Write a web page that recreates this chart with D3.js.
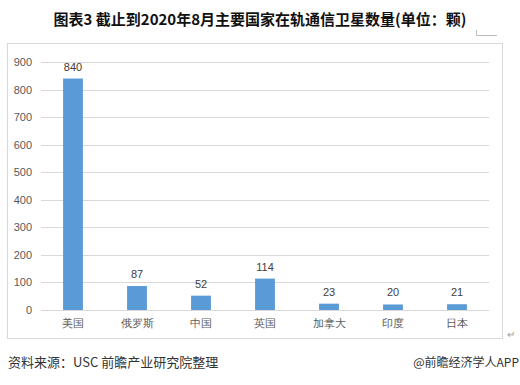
<!DOCTYPE html>
<html>
<head>
<meta charset="utf-8">
<script src="https://cdn.jsdelivr.net/npm/d3@7"></script>
<style>
  body { margin: 0; background: #fff; }
  svg { display: block; font-family: "Microsoft YaHei", "Noto Sans CJK SC", sans-serif; }
</style>
</head>
<body>
<div id="chart"></div>
<script>
var countries = ["美国", "俄罗斯", "中国", "英国", "加拿大", "印度", "日本"];
var satellites = [840, 87, 52, 114, 23, 20, 21];
var yTicks = [0, 100, 200, 300, 400, 500, 600, 700, 800, 900];

var width = 520, height = 385;
var margin = {top: 62, right: 31, bottom: 75, left: 41};
var innerW = width - margin.left - margin.right,
    innerH = height - margin.top - margin.bottom;

var svg = d3.select("#chart")
  .append("svg")
    .attr("width", width)
    .attr("height", height);

// title
svg.append("text")
  .attr("x", 260)
  .attr("y", 25)
  .attr("text-anchor", "middle")
  .attr("font-size", 15)
  .attr("font-weight", "bold")
  .attr("fill", "#111")
  .text("图表3 截止到2020年8月主要国家在轨通信卫星数量(单位：颗)");

// frame
svg.append("rect")
  .attr("x", 7.5).attr("y", 43.5)
  .attr("width", 495).attr("height", 295)
  .attr("fill", "none")
  .attr("stroke", "#d9d9d9");

svg.append("path")
  .attr("d", "M476.5,30V35.5H497")
  .attr("fill", "none")
  .attr("stroke", "#bbb");

var g = svg.append("g")
  .attr("transform", "translate(" + margin.left + "," + margin.top + ")");

var x = d3.scaleBand()
  .domain(countries)
  .range([0, innerW])
  .paddingInner(0.69)
  .paddingOuter(0.345);

var y = d3.scaleLinear()
  .domain([0, 900])
  .range([innerH, 0]);

// gridlines
g.append("g")
  .selectAll("line")
  .data(yTicks)
  .enter()
  .append("line")
    .attr("x1", 0)
    .attr("x2", innerW)
    .attr("y1", function(d) { return Math.round(y(d)) + 0.5; })
    .attr("y2", function(d) { return Math.round(y(d)) + 0.5; })
    .attr("stroke", "#d9d9d9");

// y axis labels
var yAxis = g.append("g")
  .call(d3.axisLeft(y).tickValues(yTicks).tickSize(0).tickPadding(9));
yAxis.select(".domain").remove();
yAxis.selectAll("text")
  .attr("font-size", 11)
  .attr("fill", "#595959")
  .style("font-family", "Liberation Sans, Arial, sans-serif");

// x axis
var xAxis = g.append("g")
  .attr("transform", "translate(0," + innerH + ")")
  .call(d3.axisBottom(x).tickSize(0).tickPadding(9));
xAxis.select(".domain").remove();
xAxis.selectAll("text")
  .attr("font-size", 11)
  .attr("fill", "#595959");

// bars
g.append("g")
  .selectAll("rect")
  .data(satellites)
  .enter()
  .append("rect")
    .attr("x", function(d, i) { return x(countries[i]); })
    .attr("y", function(d) { return y(d); })
    .attr("width", x.bandwidth())
    .attr("height", function(d) { return innerH - y(d); })
    .attr("fill", "#5b9bd5");

// value labels
g.append("g")
  .selectAll("text")
  .data(satellites)
  .enter()
  .append("text")
    .attr("x", function(d, i) { return x(countries[i]) + x.bandwidth() / 2; })
    .attr("y", function(d) { return y(d) - 8; })
    .attr("text-anchor", "middle")
    .attr("font-size", 11)
    .attr("fill", "#404040")
    .style("font-family", "Liberation Sans, Arial, sans-serif")
    .text(function(d) { return d; });

// footer
svg.append("text")
  .attr("x", 507).attr("y", 338)
  .attr("font-size", 10)
  .attr("fill", "#999")
  .text("↵");

svg.append("text")
  .attr("x", 8).attr("y", 367)
  .attr("font-size", 13)
  .attr("fill", "#333")
  .text("资料来源：USC 前瞻产业研究院整理");

svg.append("text")
  .attr("x", 519).attr("y", 367)
  .attr("text-anchor", "end")
  .attr("font-size", 12)
  .attr("fill", "#333")
  .text("@前瞻经济学人APP");
</script>
</body>
</html>
